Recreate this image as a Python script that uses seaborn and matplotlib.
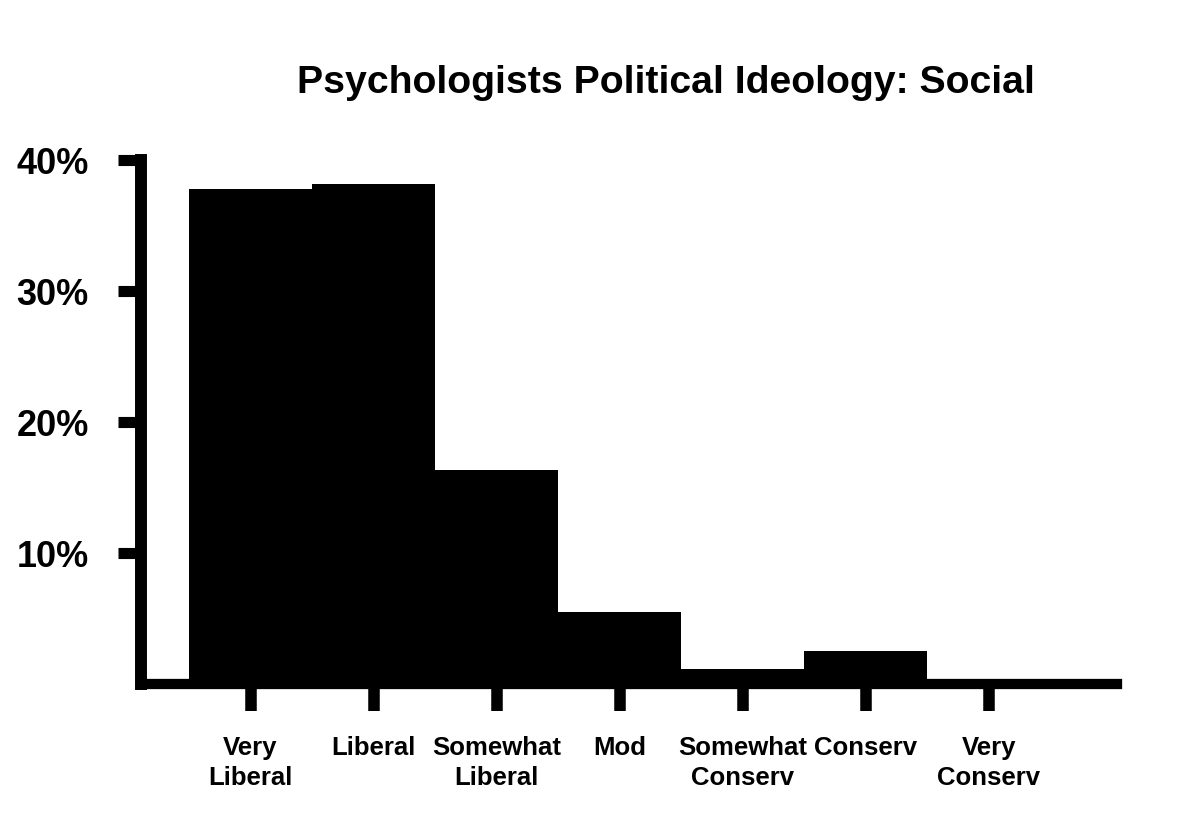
import pandas as pd
import seaborn as sns
import matplotlib.pyplot as plt
from matplotlib.ticker import FixedLocator

# values (percent of respondents)
categories = ['Very Liberal', 'Liberal', 'Somewhat Liberal', 'Mod',
              'Somewhat Conserv', 'Conserv', 'Very Conserv']
tick_labels = ['Very\nLiberal', 'Liberal', 'Somewhat\nLiberal', 'Mod',
               'Somewhat\nConserv', 'Conserv', 'Very\nConserv']
percents = [37.8, 38.2, 16.3, 5.5, 1.15, 2.5, 0.3]
y_ticks = [10, 20, 30, 40]
y_tick_labels = ['10%', '20%', '30%', '40%']

df = pd.DataFrame({'Ideology': categories, 'Percent': percents})

sns.set_style('white')
plt.rcParams['font.family'] = ['Liberation Sans', 'DejaVu Sans']
plt.rcParams['text.color'] = 'black'
plt.rcParams['xtick.labelcolor'] = 'black'
plt.rcParams['ytick.labelcolor'] = 'black'

fig = plt.figure(figsize=(11.78, 8.36), dpi=100)
ax = fig.add_axes([0.1197, 0.1818, 0.8285, 0.6268])

sns.barplot(data=df, x='Ideology', y='Percent', color='black',
            width=1.0, saturation=1, edgecolor='none', linewidth=0, ax=ax)

ax.set_xlim(-0.89, 7.04)
ax.set_ylim(0, 40)

# heavy black axes, only left and bottom
for side in ['top', 'right']:
    ax.spines[side].set_visible(False)
ax.spines['left'].set_linewidth(8.6)
ax.spines['bottom'].set_linewidth(7.4)
ax.spines['left'].set_color('black')
ax.spines['bottom'].set_color('black')

ax.yaxis.set_major_locator(FixedLocator(y_ticks))
ax.set_yticklabels(y_tick_labels)
ax.set_xticks(range(len(categories)))
ax.set_xticklabels(tick_labels, linespacing=1.3)

ax.tick_params(axis='y', direction='out', length=16.5, width=8, color='black',
               pad=21, labelsize=26, left=True, labelcolor='black')
ax.tick_params(axis='x', direction='out', length=19.5, width=8.3, color='black',
               pad=18, labelsize=18.5, bottom=True, labelcolor='black')
for lab in ax.get_xticklabels():
    lab.set_fontweight('bold')
    lab.set_verticalalignment('top')
for lab in ax.get_yticklabels():
    lab.set_fontweight('bold')

ax.set_xlabel('')
ax.set_ylabel('')
ax.set_title('Psychologists Political Ideology: Social', fontsize=28.3,
             fontweight='bold', color='black', x=0.538, pad=48)

plt.savefig('out.png', dpi=100)
plt.close()
